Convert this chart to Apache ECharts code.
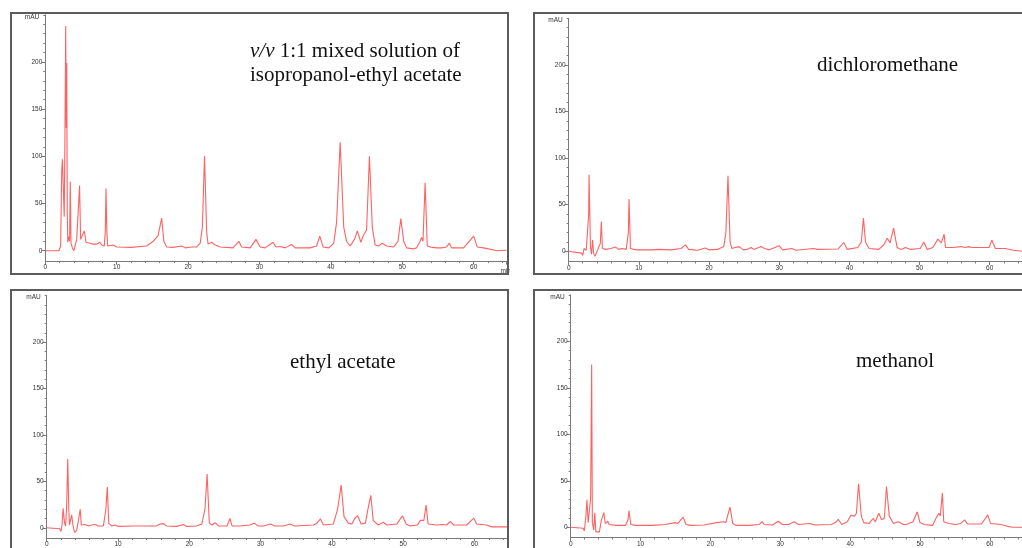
<!DOCTYPE html>
<html>
<head>
<meta charset="utf-8">
<script src="https://cdn.jsdelivr.net/npm/echarts@6/dist/echarts.min.js"></script>
<style>html,body{margin:0;padding:0;background:#fff;}#c{width:1022px;height:548px;}</style>
</head>
<body>
<div id="c"></div>
<script>
// ---------- data ----------
const xTicks = [0, 10, 20, 30, 40, 50, 60];
const yTickLabels = [0, 50, 100, 150, 200];
const yMinorTicks = [10, 20, 30, 40, 60, 70, 80, 90, 110, 120, 130, 140, 160, 170, 180, 190, 210, 220, 230, 240, 250];

const timeMixed = [0,1.9,2.15,2.3,2.4,2.55,2.65,2.75,2.86,2.93,3.0,3.08,3.15,3.3,3.4,3.5,3.6,3.8,4.0,4.15,4.4,4.6,4.8,4.95,5.2,5.46,5.7,6.25,6.7,7.2,7.65,7.9,8.26,8.4,8.5,8.62,8.75,9.5,10.0,12.0,14.2,15.1,15.8,16.3,16.6,17.0,17.9,19.1,19.6,20.5,21.2,21.7,22.0,22.3,22.6,22.8,23.3,23.8,24.5,26.3,27.1,27.5,28.7,29.5,30.1,30.8,31.9,32.3,32.9,33.6,34.5,35,37.1,38,38.45,38.9,39.7,40.4,40.8,41.3,41.8,42.2,42.7,43.3,43.7,44.2,44.6,45.0,45.4,45.8,46.2,46.7,47.2,47.8,48.8,49.4,49.8,50.2,50.6,51.6,52.0,52.5,52.7,52.9,53.2,53.5,54.2,54.9,55.5,56.2,56.6,56.9,58.6,60.0,60.5,61.4,63.3,64.6];
const mauMixed  = [0,0,5,85,97,60,36,120,238,130,199,40,9,15,10,73,8,3,0,1,12,14,69,12,14,21,9,8,7,7,9,6,5,20,66,20,5,6,4,3.5,5,10,16,34.5,10,4,3.5,5,3,4,4,8,25,100,20,7,9,6,4,3,10,4,3,12,4,3,9,4,4.5,3,6.7,3,3,5,15.5,4,3,8,30,115,25,10,5,12,21,9,17,22,100,25,6,5,8,5,4,10,34,10,3,2,3,10,14,10,72,5,3.5,3,3,4,8,3,3,15.5,4,3,0,0.5];

const timeDcm = [0,1.8,2.0,2.2,2.5,2.75,2.85,2.9,3.0,3.1,3.25,3.4,3.55,3.75,4.0,4.3,4.5,4.65,4.8,5.3,6.0,6.7,7.1,7.65,8.2,8.5,8.6,8.8,9.3,9.5,9.75,11.8,12.8,14.6,16.0,16.65,17.1,18.4,19.45,20.0,21.2,22.1,22.4,22.7,23.0,23.25,23.7,24.3,24.9,25.4,26.0,26.4,27.4,27.9,28.6,30.0,30.5,31.8,32.4,34.9,35.4,38.4,39.2,39.7,41.2,41.7,42.0,42.3,42.8,44.2,44.9,45.4,45.8,46.3,46.8,47.4,48.0,48.7,50.1,50.6,51.1,51.9,52.6,53.1,53.5,53.7,54.7,56.0,56.4,57.0,57.5,59.9,60.3,60.8,62.2,63.4,64.6];
const mauDcm  = [0,-2,-4.5,3,1,2,40,82,80,5,-3,12,-2,-5.5,-5,5,8,32,3,2,3,4.5,2,3,2,20,56,3,2,3,1.5,1.5,2,1.5,3,6.8,2,1,3.5,1.5,2,5,20,81,10,3,4,5,1.5,2,4,2,5,3,1.5,5.8,1.5,3,1,3,2,2.5,9.4,2,4,10,35.6,10,3,2,7,14,9,24.8,4,2,4,2,3,10,2,4,13,9,18.3,4,4,5,4,5,4,4,12,3,3,1,0];

const timeEtac = [0,1.8,2.0,2.15,2.3,2.5,2.65,2.8,2.95,3.1,3.2,3.5,3.7,3.9,4.2,4.45,4.7,4.85,5.4,5.85,6.3,6.8,7.25,7.95,8.3,8.5,8.7,9.1,9.6,10.05,12.2,14.0,15.4,15.9,16.4,16.8,18.2,19.2,19.6,21.0,21.75,22.2,22.5,22.8,23.2,23.6,24.1,25.3,25.7,26.0,27.1,28.5,29.1,29.7,30.4,31.4,32.0,33.2,34.1,34.8,37.4,37.9,38.4,38.8,40.2,40.8,41.3,41.7,42.3,42.8,43.2,43.6,44.1,44.7,45.0,45.45,45.8,46.5,47.2,47.7,49.1,49.9,50.4,51.0,52.0,52.4,52.6,52.9,53.2,53.5,54.7,55.5,56.1,56.6,57.1,58.9,59.9,60.3,61.7,62.4,64.6];
const mauEtac  = [0,-1,-4,3,21,5,2,24,74,20,3,14,2,-5,-3,8,20,3,3.5,2,3,3.5,2,2,20,44,5,2,3,1.5,2,2,2,4,4.5,2,1.5,3.5,1.5,2,4,20,58,5,3,5.5,2,2,10,2,2,3,5,2,2,4,2,2,4,2,3,5,9.6,3,4,20,46,12,5,4,10,13,4,5,18,35,8,3,6,3,4,13,4,2,3,8,10,8,24.6,4,3,3.5,3,6.8,3,3,10.4,4,3,1,1];

const timeMeoh = [0,1.8,1.95,2.15,2.33,2.5,2.65,2.85,3.0,3.1,3.3,3.45,3.6,3.75,4.1,4.4,4.6,4.75,4.95,5.3,5.5,6.45,7.85,8.2,8.35,8.6,9.25,11.6,13.5,14.9,15.3,16.1,16.5,17.2,19.1,20.9,21.9,22.2,22.8,23.2,23.7,25.6,27.0,27.4,27.7,28.9,29.7,30.3,31.2,32.0,32.6,34.25,34.9,37.3,37.9,38.3,38.8,39.6,40.1,40.6,40.9,41.2,41.6,41.95,42.7,43.3,43.6,44.1,44.5,44.9,45.2,45.6,46.2,46.9,47.6,48.0,49.0,49.6,50.0,50.6,51.8,52.3,52.7,52.9,53.2,53.4,54.1,55.1,55.8,56.4,56.8,58.8,59.7,60.1,61.6,62.5,63.3,64.6];
const mauMeoh  = [0,-1,-4,10,29.5,5,4,31,175,5,-3,15.5,-5,-7,-5,8,10,15.8,4,6.5,3,2,2,8,17.6,3,2,2,3,5,4,11,3,2,2.5,5,6,5,21.6,4,2,2,3,6,3,2.5,6.5,3,3,6,3,4,2.5,3,5,8.6,3,6,13,12,15,46.8,12,5,4,9.7,6,15,8,10,43.9,12,4,6,3,3,6,16.5,5,3,2,10,15,12,36.7,6,4,3,4,8,3.5,3.5,13.3,4,3,1,0,0];

const panelLabels = ['dichloromethane', 'ethyl acetate', 'methanol'];

// ---------- layout ----------
const panels = [
  {t: timeMixed, v: mauMixed, left: 45.3, top: 14.8, width: 461.2, height: 246.3, name: 'min'},
  {t: timeDcm,   v: mauDcm,   left: 568.7, top: 18.4, width: 461.9, height: 243.1, name: ''},
  {t: timeEtac,  v: mauEtac,  left: 46.7, top: 295.7, width: 460.6, height: 243.5, name: ''},
  {t: timeMeoh,  v: mauMeoh,  left: 570.7, top: 294.8, width: 460.8, height: 242.7, name: ''}
];
const axisColor = '#7a7a7a';
const labelStyle = {fontSize: 6.5, color: '#333', fontFamily: 'Liberation Sans, Arial, sans-serif'};

const grid = [], xAxis = [], yAxis = [], series = [];
panels.forEach((p, i) => {
  grid.push({left: p.left, top: p.top, width: p.width, height: p.height, containLabel: false});
  xAxis.push({
    type: 'value', gridIndex: i, min: 0, max: 64.6, interval: 10,
    axisLine: {show: true, onZero: false, lineStyle: {color: axisColor, width: 1}},
    axisTick: {show: true, length: 3.5, lineStyle: {color: axisColor}},
    minorTick: {show: true, splitNumber: 5, length: 2, lineStyle: {color: axisColor}},
    axisLabel: Object.assign({margin: 3, showMaxLabel: false, formatter: v => (xTicks.indexOf(v) >= 0 ? String(v) : '')}, labelStyle),
    splitLine: {show: false}, minorSplitLine: {show: false},
    name: p.name, nameLocation: 'end', nameGap: -6,
    nameTextStyle: Object.assign({align: 'left', verticalAlign: 'top', padding: [7, 0, 0, 0]}, labelStyle)
  });
  yAxis.push({
    type: 'value', gridIndex: i, min: -11, max: 250, position: 'left',
    axisLine: {show: true, onZero: false, lineStyle: {color: axisColor, width: 1}},
    axisTick: {show: true, length: 4, customValues: yTickLabels, lineStyle: {color: axisColor}},
    axisLabel: Object.assign({margin: 3, customValues: yTickLabels}, labelStyle),
    splitLine: {show: false},
    name: 'mAU', nameLocation: 'end', nameGap: -2,
    nameTextStyle: Object.assign({align: 'right', verticalAlign: 'middle', padding: [0, 6, 0, 0]}, labelStyle)
  });
  yAxis.push({
    type: 'value', gridIndex: i, min: -11, max: 250, position: 'left', offset: 0,
    axisLine: {show: false},
    axisTick: {show: true, length: 2, customValues: yMinorTicks, lineStyle: {color: axisColor}},
    axisLabel: {show: false}, splitLine: {show: false}
  });
  series.push({
    type: 'line', xAxisIndex: i, yAxisIndex: 2 * i,
    data: p.t.map((t, k) => [t, p.v[k]]),
    showSymbol: false, symbol: 'none', silent: true,
    lineStyle: {color: '#ff6262', width: 1.1}
  });
});

const serif = 'Liberation Serif, Times New Roman, serif';
const textFont = '21px ' + serif;
const graphic = [
  {type: 'rect', z: 90, shape: {x: 510, y: 0, width: 23, height: 548}, style: {fill: '#fff'}},
  {type: 'rect', z: 100, shape: {x: 11, y: 13, width: 497, height: 261}, style: {fill: 'none', stroke: '#5c5c5c', lineWidth: 2}},
  {type: 'rect', z: 100, shape: {x: 534, y: 13, width: 500, height: 261}, style: {fill: 'none', stroke: '#5c5c5c', lineWidth: 2}},
  {type: 'rect', z: 100, shape: {x: 11, y: 290, width: 497, height: 270}, style: {fill: 'none', stroke: '#5c5c5c', lineWidth: 2}},
  {type: 'rect', z: 100, shape: {x: 534, y: 290, width: 500, height: 270}, style: {fill: 'none', stroke: '#5c5c5c', lineWidth: 2}},
  {type: 'text', z: 100, x: 250, y: 51, style: {text: '{i|v/v} 1:1 mixed solution of', font: textFont, fill: '#111', verticalAlign: 'middle',
     rich: {i: {fontStyle: 'italic', fontFamily: serif, fontSize: 21, fill: '#111'}}}},
  {type: 'text', z: 100, x: 250, y: 75, style: {text: 'isopropanol-ethyl acetate', font: textFont, fill: '#111', verticalAlign: 'middle'}},
  {type: 'text', z: 100, x: 817, y: 65, style: {text: panelLabels[0], font: textFont, fill: '#111', verticalAlign: 'middle'}},
  {type: 'text', z: 100, x: 290, y: 362, style: {text: panelLabels[1], font: textFont, fill: '#111', verticalAlign: 'middle'}},
  {type: 'text', z: 100, x: 856, y: 361, style: {text: panelLabels[2], font: textFont, fill: '#111', verticalAlign: 'middle'}}
];

const chart = echarts.init(document.getElementById('c'), null, {renderer: 'canvas'});
chart.setOption({animation: false, backgroundColor: '#fff', grid, xAxis, yAxis, series, graphic});
</script>
</body>
</html>
